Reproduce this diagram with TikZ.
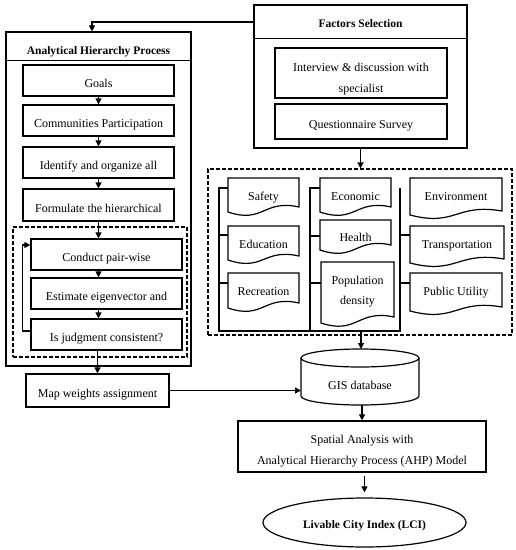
\documentclass[tikz,border=0pt]{standalone}
\usepackage{fontspec}
\setmainfont{Liberation Serif}
\usetikzlibrary{arrows.meta,shapes.geometric}
\newcommand{\docshape}[5]{%
  \draw[ln] (#1,#2) -- (#3,#2) -- (#3,#5)
    .. controls ({#1+0.5*(#3-#1)},{#5-8}) and ({#1+0.5*(#3-#1)},{#4+12}) .. (#1,#4) -- cycle;}
\begin{document}
\begin{tikzpicture}[x=1pt,y=-1pt,
  ln/.style={line width=1.2pt},
  box/.style={draw, line width=1.2pt, inner sep=0pt, text height=14pt, text depth=0pt,
    font=\fontsize{12}{14}\selectfont},
  dbox/.style={draw, line width=1.1pt, dash pattern=on 4pt off 2pt, inner sep=0pt},
  arr/.style={line width=1.2pt, -{Triangle[length=6pt,width=6pt]}},
  ttl/.style={font=\fontsize{11.5}{14}\selectfont\bfseries, anchor=base, inner sep=0pt},
  txt/.style={font=\fontsize{12}{14}\selectfont, anchor=base, inner sep=0pt},
  two/.style={font=\fontsize{12}{21}\selectfont, align=center, inner sep=0pt},
]
\useasboundingbox (0,0) rectangle (516,550);

% ---------- AHP ----------
\node[box, minimum width=185pt, minimum height=334pt] (ahp) at (98.5,199) {};
\draw[ln] ([yshift=-29pt]ahp.north west) -- ([yshift=-29pt]ahp.north east);
\node[ttl] (ahpt) at (98.5,54.3) {Analytical Hierarchy Process};

\node[box, minimum width=151pt, minimum height=31pt] (goals) at (98.5,80.5) {Goals};
\node[box, minimum width=151pt, minimum height=31pt] (comm) at (98.5,120.5) {Communities Participation};
\node[box, minimum width=151pt, minimum height=31pt] (ident) at (98.5,162.5) {Identify and organize all};
\node[box, minimum width=151pt, minimum height=32pt] (form) at (98.5,205) {Formulate the hierarchical};

\node[dbox, minimum width=174pt, minimum height=130pt] (loopbox) at (100,292) {};
\node[box, minimum width=151pt, minimum height=31pt] (conduct) at (106.5,254.5) {Conduct pair-wise};
\node[box, minimum width=151pt, minimum height=31pt] (estim) at (106.5,293.5) {Estimate eigenvector and};
\node[box, minimum width=151pt, minimum height=31pt] (judg) at (106.5,334.5) {Is judgment consistent?};

\node[box, minimum width=143pt, minimum height=33pt] (map) at (97.5,390.5) {Map weights assignment};

\draw[arr] (goals) -- (comm);
\draw[arr] (comm) -- (ident);
\draw[arr] (ident) -- (form);
\draw[arr] (form.south) -- (form.south |- conduct.north);
\draw[arr] (form.south |- conduct.south) -- (form.south |- estim.north);
\draw[arr] (form.south |- estim.south) -- (form.south |- judg.north);
\draw[arr] (map.north |- judg.south) -- (map.north);
\draw[arr] ([yshift=3.5pt]judg.west) -- ++(-8,0) |- ([yshift=9.5pt]conduct.west);

% ---------- Factors Selection ----------
\node[box, minimum width=213pt, minimum height=143pt] (fs) at (360.5,76.5) {};
\draw[ln] ([yshift=-34pt]fs.north west) -- ([yshift=-34pt]fs.north east);
\node[ttl] (fst) at (360.5,27.3) {Factors Selection};
\node[box, minimum width=172pt, minimum height=50pt] (interv) at (361,73) {};
\node[two] (intervt) at (361,78.7) {Interview \& discussion with\\specialist};
\node[box, minimum width=172pt, minimum height=35pt] (quest) at (361,121.5) {Questionnaire Survey};

\draw[arr] ([yshift=54.5pt]fs.west) -| ([xshift=-6.5pt]ahp.north);

% ---------- factors ----------
\node[dbox, minimum width=304pt, minimum height=166pt] (fbox) at (360,252) {};
\draw[arr] (fs.south) -- (fs.south |- fbox.north);

\docshape{228}{178}{299}{212}{207}
\node[txt] (safety) at (263.5,200) {Safety};
\docshape{228}{226}{299}{260}{256}
\node[txt] (educ) at (263.5,248.3) {Education};
\docshape{228}{273}{299}{308}{303}
\node[txt] (recr) at (263.5,295.7) {Recreation};

\docshape{320}{178}{391}{212}{207}
\node[txt] (econ) at (355.5,200) {Economic};
\docshape{320}{220}{391}{250}{245}
\node[txt] (health) at (355.5,241) {Health};
\docshape{321}{262}{394}{323}{317}
\node[font=\fontsize{12}{20.3}\selectfont, align=center, inner sep=0pt] (pop) at (357.5,291.4) {Population\\density};

\docshape{410}{178}{502}{215}{211}
\node[txt] (env) at (456,200.7) {Environment};
\docshape{410}{226}{504}{263}{259}
\node[txt] (trans) at (457,248.3) {Transportation};
\docshape{410}{273}{502}{311}{307}
\node[txt] (pub) at (456,295.7) {Public Utility};

% brackets
\draw[ln] (228,188) -- (219,188) -- (219,331) -- (400,331) -- (400,188);
\draw[ln] (310,331) -- (310,188) -- (320,188);
\draw[ln] (219,235) -- (228,235);
\draw[ln] (219,283) -- (228,283);
\draw[ln] (310,236) -- (320,236);
\draw[ln] (310,283) -- (321,283);
\draw[ln] (400,235) -- (410,235);
\draw[ln] (400,283) -- (410,283);

% ---------- GIS ----------
\draw[ln] (360,358) ellipse [x radius=59pt, y radius=9pt];
\draw[ln] (301,358) -- (301,396) arc[start angle=180, end angle=360, x radius=59pt, y radius=9pt] -- (419,358);
\node[txt] (gis) at (360,389.3) {GIS database};
\coordinate (brk) at (361,331);
\coordinate (gisT) at (361,349);
\coordinate (gisL) at (301,388);
\coordinate (gisB) at (362,405);
\draw[arr] (brk) -- (gisT);
\draw[arr] (map.east) -- (map.east -| gisL);

% ---------- Spatial ----------
\node[box, minimum width=248pt, minimum height=51pt] (spatial) at (362,446.5) {};
\node[two] (spatialt) at (362,451.1) {Spatial Analysis with\\Analytical Hierarchy Process (AHP) Model};
\draw[arr] (gisB) -- (gisB |- spatial.north);

\node[draw, ellipse, line width=1.2pt, minimum width=203pt, minimum height=49pt, inner sep=0pt,
  text height=11.6pt, text depth=0pt, font=\fontsize{11.5}{14}\selectfont\bfseries] (lci) at (364.5,522.5) {Livable City Index (LCI)};
\draw[arr, shorten <=3pt, shorten >=5pt] (spatial.south -| lci.north) -- (lci.north);
\end{tikzpicture}
\end{document}
